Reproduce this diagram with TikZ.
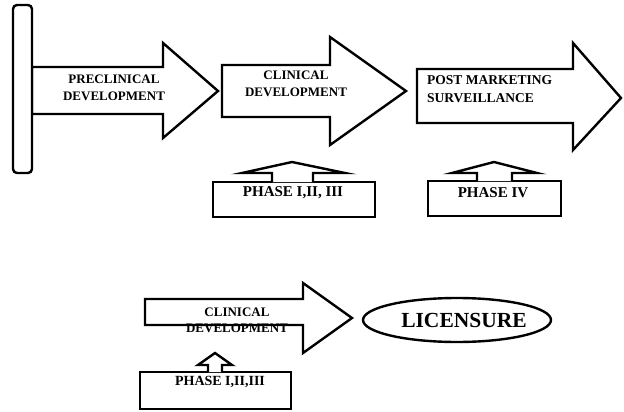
\documentclass[tikz,border=0pt]{standalone}
\usepackage{fontspec}
\setmainfont{Liberation Serif}
\begin{document}
\begin{tikzpicture}[x=1pt,y=-1pt,
  shp/.style={draw=black,line width=2.4pt,line join=miter,fill=white},
  lbl/.style={font=\bfseries\fontsize{13}{17}\selectfont,align=center,inner sep=0pt,text=black},
  phlbl/.style={font=\bfseries\fontsize{15}{18}\selectfont,inner sep=0pt,text=black}]
\useasboundingbox (0,0) rectangle (624,412);
% top row arrows
\draw[shp] (32,67) -- (163,67) -- (163,43) -- (218,91) -- (163,138) -- (163,114) -- (32,114) -- cycle;
\draw[shp,rounded corners=4pt] (13,5) rectangle (32,173);
\draw[shp] (222,65) -- (330,65) -- (330,37) -- (406,91) -- (330,145) -- (330,117) -- (222,117) -- cycle;
\draw[shp] (417,69) -- (573,69) -- (573,43) -- (621,98) -- (573,150) -- (573,123) -- (417,123) -- cycle;
\node[lbl] (pre) at (114,88) {PRECLINICAL\\DEVELOPMENT};
\node[lbl] (clin) at (296,84) {CLINICAL\\DEVELOPMENT};
\node[lbl,align=left,anchor=west,font=\bfseries\fontsize{13.5}{18}\selectfont] (post) at (427,89) {POST MARKETING\\SURVEILLANCE};
% phase boxes top
\draw[shp] (213,182) rectangle (375,217);
\draw[shp] (272,182) -- (272,173) -- (242,173) -- (292,162) -- (345,173) -- (313,173) -- (313,182);
\node[phlbl] (ph1) at (293,193) {PHASE I,II, III};
\draw[shp] (428,181) rectangle (561,216);
\draw[shp] (477,181) -- (477,173) -- (452,173) -- (494,162) -- (537,173) -- (512,173) -- (512,181);
\node[phlbl] (ph4) at (493,193) {PHASE IV};
% bottom row
\draw[shp] (145,299) -- (303,299) -- (303,283) -- (352,318) -- (303,353) -- (303,325) -- (145,325) -- cycle;
\node[lbl,font=\bfseries\fontsize{13}{16}\selectfont] (clin2) at (237,320) {CLINICAL\\DEVELOPMENT};
\draw[shp] (140,372) rectangle (291,409);
\draw[shp] (208,372) -- (208,365) -- (198,365) -- (215,353) -- (232,365) -- (222,365) -- (222,372);
\node[phlbl,font=\bfseries\fontsize{14}{17}\selectfont] (ph123) at (220,382) {PHASE I,II,III};
\draw[shp] (457,320) ellipse [x radius=94, y radius=22];
\node[phlbl,font=\bfseries\fontsize{21.5}{24}\selectfont] (lic) at (464,320) {LICENSURE};
\end{tikzpicture}
\end{document}
